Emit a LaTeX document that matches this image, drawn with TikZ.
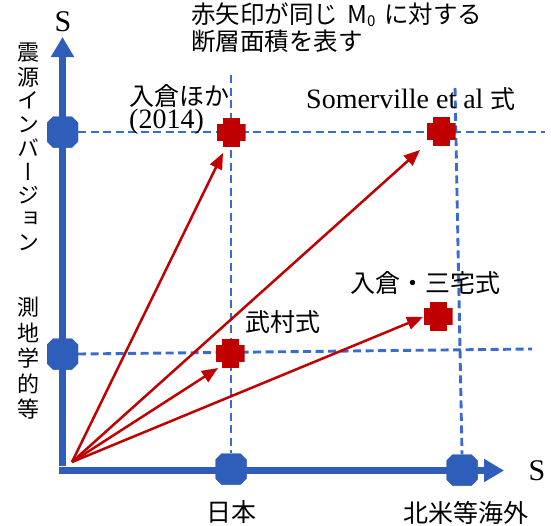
\documentclass[tikz,border=0pt]{standalone}
\usepackage{fontspec}
\setmainfont{Liberation Serif}
\newfontfamily\cjk{Noto Sans CJK JP}
\newfontfamily\cjkv[RawFeature=+vert]{Noto Sans CJK JP}
\usetikzlibrary{arrows.meta}
\definecolor{axblue}{RGB}{47,94,186}
\definecolor{dashblue}{RGB}{58,108,205}
\definecolor{cred}{RGB}{192,0,0}
\newcommand{\cjklbl}{\fontsize{25}{28}\selectfont\cjk}
\newcommand{\latlbl}{\fontsize{28}{30}\selectfont}
\tikzset{
  axis/.style={line width=7pt, draw=axblue, -{Triangle[length=20pt,width=22pt]}},
  guide/.style={line width=2.9pt, draw=dashblue, dash pattern=on 8pt off 4.5pt},
  octmark/.style={rectangle, minimum size=31pt, inner sep=0pt,
    path picture={
      \fill[axblue] ([xshift=6pt]path picture bounding box.south west)
        -- ([xshift=-6pt]path picture bounding box.south east)
        -- ([yshift=6pt]path picture bounding box.south east)
        -- ([yshift=-6pt]path picture bounding box.north east)
        -- ([xshift=-6pt]path picture bounding box.north east)
        -- ([xshift=6pt]path picture bounding box.north west)
        -- ([yshift=-6pt]path picture bounding box.north west)
        -- ([yshift=6pt]path picture bounding box.south west) -- cycle;
    }},
  plusmark/.style={rectangle, minimum size=29pt, inner sep=0pt,
    path picture={
      \fill[cred] ([yshift=-8.5pt]path picture bounding box.west) rectangle ([yshift=8.5pt]path picture bounding box.east);
      \fill[cred] ([xshift=-8.5pt]path picture bounding box.south) rectangle ([xshift=8.5pt]path picture bounding box.north);
    }},
  redarrow/.style={line width=2.5pt, draw=cred, -{Triangle[length=16pt,width=13pt]}},
  lbl/.style={inner sep=0pt, text=black},
}
\begin{document}
\begin{tikzpicture}[x=1pt,y=-1pt]
\useasboundingbox (0,0) rectangle (551,525);

% coordinates
\coordinate (yb) at (62.5,466);
\coordinate (yt) at (62.5,37);
\coordinate (xl) at (59,470.5);
\coordinate (xr) at (504,470.5);
\coordinate (o) at (72,462);
\coordinate (vltop) at (231,75);
\coordinate (vrtop) at (455,88);
\coordinate (htend) at (545,132);
\coordinate (hmend) at (532,349);

% markers (positions)
\node[octmark] (ytop) at (62.5,132) {};
\node[octmark] (ymid) at (62.5,354) {};
\node[octmark] (xjp) at (231,469) {};
\node[octmark] (xna) at (462,470) {};

% dashed guide lines
\draw[guide] (ytop.east) -- (htend);
\draw[guide] (ymid.east) -- (hmend);
\draw[guide] (vltop) -- (xjp.north);
\draw[guide] (vrtop) -- (xna.north);

% axes
\draw[axis] (yb) -- (yt);
\draw[axis] (xl) -- (xr);

% redraw markers on top
\node[octmark] at (ytop) {};
\node[octmark] at (ymid) {};
\node[octmark] at (xjp) {};
\node[octmark] at (xna) {};

% red crosses
\node[plusmark] (p1) at (231,132) {};
\node[plusmark] (p2) at (441,131) {};
\node[plusmark] (p3) at (230,353) {};
\node[plusmark] (p4) at (438,316) {};

% red arrows
\draw[redarrow] (o) -- (223,153);
\draw[redarrow] (o) -- (420,150);
\draw[redarrow] (o) -- (218,368);
\draw[redarrow] (o) -- (423,317);

% axis labels
\node[lbl, font=\fontsize{30}{30}\selectfont] (sy) at (63,22) {S};
\node[lbl, font=\fontsize{30}{30}\selectfont] (sx) at (537,471) {S};

% title
\node[lbl, anchor=west] (t1) at (191,15) {\fontsize{24.5}{26}\selectfont\cjk 赤矢印が同じ\hspace{9pt}M\raisebox{-3pt}{\fontsize{15}{15}\selectfont 0}\hspace{9pt}に対する};
\node[lbl, anchor=west] (t2) at (191,41) {\fontsize{24.5}{26}\selectfont\cjk 断層面積を表す};

% vertical left labels
\foreach \c [count=\i] in {震,源,イ,ン,バ,ー,ジ,ョ,ン}{
  \node[lbl] (va\i) at (28,{53+23.75*(\i-1)}) {\fontsize{22}{22}\selectfont\cjkv \c};
}
\foreach \c [count=\i] in {測,地,学,的,等}{
  \node[lbl] (vb\i) at (28,{307+25.5*(\i-1)}) {\fontsize{22}{22}\selectfont\cjkv \c};
}

% point labels
\node[lbl, anchor=west] (l1) at (129,96) {\cjklbl 入倉ほか};
\node[lbl, anchor=west] (l1b) at (129,122) {\latlbl (2014)};
\node[lbl, anchor=west] (l2) at (306,99) {\latlbl Somerville et al {\cjklbl 式}};
\node[lbl, anchor=west] (l3) at (350,283) {\cjklbl 入倉・三宅式};
\node[lbl, anchor=west] (l4) at (245,322) {\cjklbl 武村式};
\node[lbl] (l5) at (231,512) {\cjklbl 日本};
\node[lbl] (l6) at (466,513) {\cjklbl 北米等海外};
\end{tikzpicture}
\end{document}
